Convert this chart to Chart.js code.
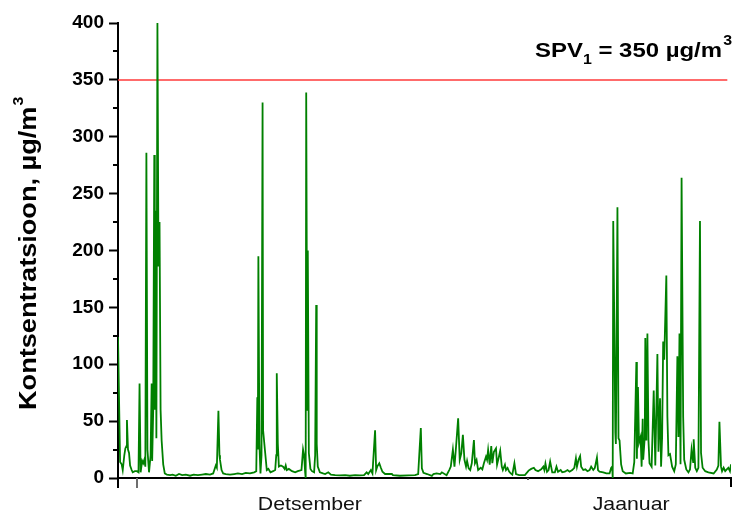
<!DOCTYPE html>
<html>
<head>
<meta charset="utf-8">
<script src="https://cdn.jsdelivr.net/npm/chart.js@4.4.1/dist/chart.umd.min.js"></script>
<style>
  html, body { margin: 0; padding: 0; background: #fff; }
  #wrap { width: 733px; height: 513px; }
</style>
</head>
<body>
<div id="wrap"><canvas id="c" width="733" height="513"></canvas></div>
<script>
// Hourly time stamps, counted in hours from 1 December 00:00
const hours = [
  -36, -32, -29, -27, -24, -22, -20, -19, -17, -15, -13, -10, -8, -4, 0, 3, 5, 7, 10, 12,
  14, 16, 18, 20, 23, 26, 28, 29, 31, 33, 34, 36, 37, 39, 41, 43, 45, 47, 50, 53,
  57, 63, 68, 74, 80, 86, 93, 101, 108, 116, 124, 131, 139, 145, 150, 152, 155, 157, 158, 161,
  164, 169, 177, 185, 192, 200, 207, 215, 223, 227, 229, 230, 231, 233, 235, 237, 239, 240, 244, 247,
  250, 254, 259, 263, 265, 266, 268, 270, 274, 278, 281, 283, 285, 289, 295, 301, 306, 313, 316, 318,
  320, 321, 322, 324, 325, 327, 330, 333, 337, 339, 341, 342, 344, 348, 354, 358, 364, 369, 377, 386,
  396, 405, 415, 424, 432, 437, 440, 445, 448, 453, 455, 457, 461, 464, 467, 472, 485, 487, 500, 516,
  529, 535, 537, 540, 542, 545, 552, 561, 564, 570, 577, 580, 589, 594, 597, 601, 604, 607, 611, 614,
  617, 620, 623, 626, 628, 631, 634, 637, 641, 643, 646, 649, 654, 657, 660, 664, 666, 668, 671, 674,
  676, 679, 683, 685, 688, 691, 694, 696, 700, 702, 705, 708, 711, 714, 718, 721, 727, 738, 745, 750,
  755, 758, 763, 769, 773, 775, 777, 780, 783, 786, 790, 795, 798, 801, 806, 809, 814, 819, 823, 828,
  832, 835, 837, 840, 843, 845, 849, 853, 857, 861, 864, 868, 871, 875, 877, 880, 887, 893, 899, 902,
  904, 905, 906, 908, 910, 911, 914, 916, 918, 921, 924, 930, 938, 943, 946, 950, 951, 953, 955, 958,
  960, 962, 963, 966, 967, 969, 971, 973, 975, 979, 983, 986, 990, 992, 995, 997, 999, 1001, 1003, 1007,
  1009, 1011, 1014, 1018, 1022, 1025, 1028, 1030, 1032, 1034, 1036, 1039, 1041, 1045, 1049, 1052, 1055, 1058, 1059, 1062,
  1065, 1068, 1071, 1073, 1076, 1081, 1087, 1097, 1103, 1106, 1108, 1111, 1113, 1116, 1119, 1122, 1125, 1128, 1130
];

// Concentration, µg/m³
const concentration = [
  124, 14, 12, 7, 20, 26, 28, 51, 25, 22, 11, 7, 5, 6, 6, 5, 83, 5, 15, 13,
  16, 10, 286, 25, 5, 20, 83, 15, 60, 284, 60, 235, 35, 400, 186, 225, 60, 33, 12, 4,
  3, 2.5, 3, 2, 3.5, 2.5, 3, 2, 3, 2.5, 3, 3.5, 3, 4, 11, 9, 59, 20, 16, 7,
  4, 3.5, 3, 3.5, 4, 3.5, 4.5, 4, 5, 6, 71, 25, 195, 30, 4, 20, 330, 42, 22, 7,
  8, 5, 6, 7, 20, 92, 30, 10, 11, 10, 8, 11, 7, 8, 6, 5, 6, 7, 25, 20,
  5, 0, 339, 60, 200, 22, 8, 6, 5, 20, 152, 30, 10, 5, 4, 3.5, 5, 3, 2.5, 2.3,
  2.5, 2, 2.5, 2.3, 2.5, 5, 3.5, 7, 4, 42, 7, 10, 13, 9, 5.5, 3.5, 3.5, 2.5, 2, 2.3,
  2.5, 3.5, 20, 44, 8.5, 4.5, 3.5, 1.8, 3.5, 4, 3.5, 5, 2.5, 7, 10, 25, 10, 27.5, 52.5, 16,
  21.7, 38, 16, 10, 15, 8.5, 7, 13, 33.4, 13, 16, 7, 9, 7.5, 13, 18.8, 16, 24.6, 11.7, 28,
  13, 23, 26, 11.7, 17.6, 24, 10, 7, 11.7, 7, 8.8, 5.6, 4, 3, 13, 3.5, 2.6, 2.5, 6.5, 8,
  9, 7, 6, 7.6, 10, 7, 12.6, 5.5, 7, 14.4, 5, 5, 10, 5.5, 7, 5, 5.5, 7, 5.5, 7,
  9, 17.3, 10, 16, 19.3, 10, 7, 7.6, 6, 7, 10, 7, 8.8, 18, 7, 5.5, 5, 4, 4, 8.8,
  10, 0, 226, 137, 40, 30, 238, 35, 33, 12, 6, 4, 4.5, 4, 14, 102, 17, 80, 31, 36,
  10, 52, 16, 36, 123, 33, 127, 33, 13, 10, 77, 11, 109, 23, 70, 10, 36, 120, 104, 178,
  54, 20, 21, 10, 6, 12, 107, 36, 127, 12, 264, 54, 16, 7.5, 5, 7.5, 25, 14, 34, 9,
  6, 9, 226, 22, 9, 6, 5, 4, 7.5, 11, 49.5, 10, 6, 9, 6, 7.5, 9, 6, 12
];

// Limit value SPV1
const limitValue = 350;
const limitSpan = [-36, 1123];

// Axis ranges and labels
const xRange = [-36, 1130];
const yTicks = [0, 50, 100, 150, 200, 250, 300, 350, 400];
const monthStarts = [0, 744];
const monthNames = ['Detsember', 'Jaanuar'];
const monthNameAt = [329, 940];

const FONT = "'Liberation Sans', Arial, Helvetica, sans-serif";

function stretchedText(ctx, text, x, y, sx, align) {
  ctx.save();
  ctx.translate(x, y);
  ctx.scale(sx, 1);
  ctx.textAlign = align;
  ctx.fillText(text, 0, 0);
  ctx.restore();
}

const axisDecor = {
  id: 'axisDecor',
  afterDraw(chart) {
    const { ctx, chartArea } = chart;
    const xs = chart.scales.x, ys = chart.scales.y;
    const left = chartArea.left, bottom = chartArea.bottom;
    ctx.save();
    ctx.lineCap = 'butt';

    // minor y ticks between the labelled ones
    ctx.strokeStyle = '#000';
    ctx.lineWidth = 2;
    for (let i = 0; i < yTicks.length - 1; i++) {
      const v = (yTicks[i] + yTicks[i + 1]) / 2;
      const py = Math.round(ys.getPixelForValue(v));
      ctx.beginPath(); ctx.moveTo(left - 5, py); ctx.lineTo(left, py); ctx.stroke();
    }

    // x tick marks: axis start, month starts, axis end
    const xMarks = [
      { v: xRange[0], len: 10, color: '#000' },
      { v: monthStarts[0], len: 10, color: '#6e6e6e' },
      { v: monthStarts[1], len: 2, color: '#555' },
      { v: xRange[1], len: 9, color: '#000' }
    ];
    xMarks.forEach(m => {
      const px = Math.round(xs.getPixelForValue(m.v));
      ctx.strokeStyle = m.color;
      ctx.beginPath(); ctx.moveTo(px, bottom); ctx.lineTo(px, bottom + m.len); ctx.stroke();
    });

    // month names
    ctx.fillStyle = '#111';
    ctx.textBaseline = 'alphabetic';
    ctx.font = '19px ' + FONT;
    monthNames.forEach((name, i) => {
      stretchedText(ctx, name, xs.getPixelForValue(monthNameAt[i]), 510, 1.12, 'center');
    });

    // y axis title
    ctx.fillStyle = '#000';
    ctx.save();
    ctx.translate(36, 410);
    ctx.rotate(-Math.PI / 2);
    ctx.scale(1.13, 1);
    ctx.font = 'bold 24px ' + FONT;
    ctx.textAlign = 'left';
    const title = 'Kontsentratsioon, µg/m';
    ctx.fillText(title, 0, 0);
    const tw = ctx.measureText(title).width;
    ctx.font = 'bold 14px ' + FONT;
    ctx.fillText('3', tw + 1, -13);
    ctx.restore();

    // limit value label
    ctx.save();
    ctx.translate(535, 57);
    ctx.scale(1.14, 1);
    ctx.textAlign = 'left';
    ctx.font = 'bold 21px ' + FONT;
    let x = 0;
    ctx.fillText('SPV', x, 0); x += ctx.measureText('SPV').width;
    ctx.font = 'bold 14px ' + FONT;
    ctx.fillText('1', x, 7); x += ctx.measureText('1').width;
    ctx.font = 'bold 21px ' + FONT;
    const rest = ' = ' + limitValue + ' µg/m';
    ctx.fillText(rest, x, 0); x += ctx.measureText(rest).width;
    ctx.font = 'bold 14px ' + FONT;
    ctx.fillText('3', x + 1, -12);
    ctx.restore();

    ctx.restore();
  }
};

new Chart(document.getElementById('c'), {
  type: 'line',
  data: {
    datasets: [
      {
        data: hours.map((h, i) => ({ x: h, y: concentration[i] })),
        borderColor: '#008000',
        borderWidth: 1.8,
        pointRadius: 0,
        tension: 0,
        fill: false
      },
      {
        data: limitSpan.map(h => ({ x: h, y: limitValue })),
        borderColor: '#ff3a3a',
        borderWidth: 1.5,
        pointRadius: 0,
        tension: 0,
        fill: false
      }
    ]
  },
  options: {
    responsive: false,
    animation: false,
    events: [],
    layout: { padding: { top: 23, right: 2, left: 0, bottom: 0 } },
    plugins: { legend: { display: false }, tooltip: { enabled: false } },
    scales: {
      x: {
        type: 'linear',
        min: xRange[0],
        max: xRange[1],
        ticks: { display: false },
        grid: { display: false, drawTicks: false },
        border: { display: true, color: '#000', width: 2 },
        afterFit(s) { s.height = 35; }
      },
      y: {
        min: yTicks[0],
        max: yTicks[yTicks.length - 1],
        afterBuildTicks(s) { s.ticks = yTicks.map(v => ({ value: v })); },
        ticks: {
          color: '#000',
          padding: 5,
          font: { family: FONT, size: 19, weight: 'bold' }
        },
        grid: { drawOnChartArea: false, drawTicks: true, tickLength: 9, tickColor: '#000', tickWidth: 2 },
        border: { display: true, color: '#000', width: 2 },
        afterFit(s) { s.width = 118; }
      }
    }
  },
  plugins: [axisDecor]
});
</script>
</body>
</html>
